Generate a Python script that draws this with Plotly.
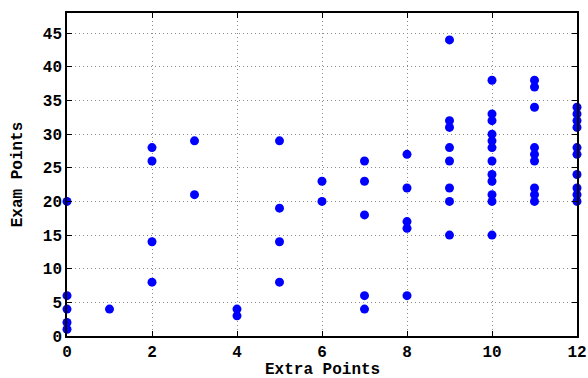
import plotly.graph_objects as go

extra = ([0]*5 + [1] + [2]*4 + [3]*2 + [4]*2 + [5]*4 + [6]*2 + [7]*5 + [8]*5
         + [9]*8 + [10]*12 + [11]*9 + [12]*10)
exam = ([20, 6, 4, 2, 1] + [4] + [28, 26, 14, 8] + [29, 21] + [4, 3] + [29, 19, 14, 8]
        + [23, 20] + [26, 23, 18, 6, 4] + [27, 22, 17, 16, 6]
        + [44, 32, 31, 28, 26, 22, 20, 15]
        + [38, 33, 32, 30, 29, 28, 26, 24, 23, 21, 20, 15]
        + [38, 37, 34, 28, 27, 26, 22, 21, 20]
        + [34, 33, 32, 31, 28, 27, 24, 22, 21, 20])

x_title = "Extra Points"
y_title = "Exam Points"

fam = "Liberation Mono, Courier New, monospace"
tickfont = dict(family=fam, size=16, color="black", weight="bold")
titlefont = dict(family=fam, size=16, color="black", weight="bold")

fig = go.Figure(go.Scatter(x=extra, y=exam, mode="markers",
                           marker=dict(color="#0000ff", size=9), cliponaxis=False))

axis_common = dict(showline=True, linecolor="black", linewidth=1.5, mirror="ticks",
                   ticks="inside", ticklen=5, tickcolor="black", tickwidth=1,
                   showgrid=True, gridcolor="#8a8a8a", griddash="1px,3px", gridwidth=1,
                   zeroline=False, tickfont=tickfont, automargin=False)

fig.update_xaxes(range=[0, 12], tickvals=[0, 2, 4, 6, 8, 10, 12], ticklabelstandoff=0,
                 **axis_common)
fig.update_yaxes(range=[0, 48], tickvals=[0, 5, 10, 15, 20, 25, 30, 35, 40, 45],
                 title=dict(text=y_title, font=titlefont, standoff=16),
                 **axis_common)

fig.add_annotation(text=x_title, xref="paper", yref="paper", x=0.5, y=-0.104,
                   xanchor="center", yanchor="middle", showarrow=False, font=titlefont,
                   borderpad=0)

fig.update_layout(width=588, height=378, margin=dict(l=67, r=11, t=13, b=42),
                  plot_bgcolor="white", paper_bgcolor="white", showlegend=False)

fig.write_html("out.html", config={"displayModeBar": False},
               post_script="document.body.style.margin='0';document.body.style.overflow='hidden';")
